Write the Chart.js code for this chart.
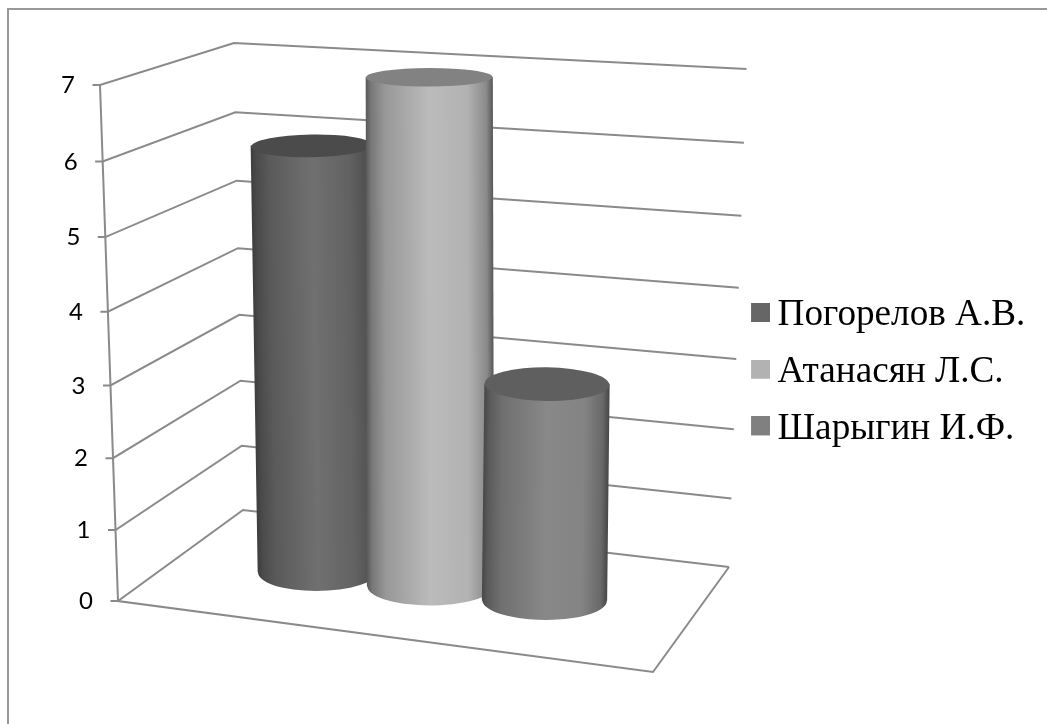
<!DOCTYPE html>
<html>
<head>
<meta charset="utf-8">
<style>
  html, body { margin: 0; padding: 0; background: #fff; overflow: hidden; }
  #wrap { position: relative; width: 1047px; height: 724px; }
  #wrap canvas { position: absolute; left: 0; top: 0; }
  #frame {
    position: absolute; left: 7px; top: 8px; right: 0; bottom: 0;
    border-top: 2px solid #989898; border-left: 2px solid #989898;
  }
</style>
<script src="https://cdn.jsdelivr.net/npm/chart.js@4"></script>
</head>
<body>
<div id="wrap">
  <div id="frame"></div>
  <canvas id="chartCanvas" width="1047" height="724"></canvas>
</div>
<script>
const seriesNames = ['Погорелов А.В.', 'Атанасян Л.С.', 'Шарыгин И.Ф.'];
const seriesValues = [6, 7, 3];
const tickLabels = ['0', '1', '2', '3', '4', '5', '6', '7'];

const legendColors = ['#666666', '#b2b2b2', '#808080'];
const topColors = ['#4b4b4b', '#828282', '#5f5f5f'];
const barWidths = [121, 126.5, 124.6];
const sideStops = [
  ['#3e3e3e', '#4a4a4a', '#5a5a5a', '#707070', '#626262', '#505050', '#3c3c3c'],
  ['#5a5a5a', '#787878', '#989898', '#bbbbbb', '#b2b2b2', '#8a8a8a', '#5a5a5a'],
  ['#484848', '#5a5a5a', '#707070', '#888888', '#848484', '#686868', '#484848']
];
const stopOffsets = [0, 0.04, 0.15, 0.5, 0.8, 0.95, 1];

// box corners, [x at value 0, y at value 0, x at top, y at top]
const frontLeft = [118, 601, 100, 85];
const backLeft = [243, 510, 234, 43];
const backRight = [729, 567, 746.5, 69];
const frontRight = [653, 672];

const lerp = (a, b, t) => a + (b - a) * t;
// slight foreshortening of the value axis
const depthT = t => t / (t + (1 - t) * 1.045);

function edgePoint(edge, t) {
  return [lerp(edge[0], edge[2], t), lerp(edge[1], edge[3], t)];
}

function axisT(scale, value) {
  const t = (scale.bottom - scale.getPixelForValue(value)) / (scale.bottom - scale.top);
  return depthT(t);
}

// floor line, height and lean of a cylinder standing at pixel x
const floorY = x => 571.7 + 0.1222 * (x - 311.5);
const fullHeight = x => 500 + 0.075 * (x - 311.5);
const leanAt = x => 0.0165 - 0.0001195 * (x - 311.5);
const capRadius = y => 9.25 + 0.02465 * (y - 76.7) - 2.44e-5 * (y - 76.7) * (y - 385);

// legend square, placed off the centre of its canvas so it lines up with the text
function makeSwatch(color) {
  const c = document.createElement('canvas');
  c.width = 22;
  c.height = 25;
  const g = c.getContext('2d');
  g.fillStyle = color;
  g.fillRect(3, 0, 19, 19);
  return c;
}
const swatches = legendColors.map(makeSwatch);

const box3d = {
  id: 'box3d',
  afterLayout(chart) {
    const legend = chart.legend;
    legend.left = 739.5;
    legend.right = 1047;
    legend.top = 277.4;
    legend.bottom = 724;
  },
  beforeDatasetsDraw(chart) {
    const ctx = chart.ctx;
    const y = chart.scales.y;
    ctx.save();
    ctx.strokeStyle = '#8a8a8a';
    ctx.lineWidth = 2;
    ctx.lineJoin = 'miter';
    y.ticks.forEach(tick => {
      const t = axisT(y, tick.value);
      const a = edgePoint(frontLeft, t);
      const b = edgePoint(backLeft, t);
      const c = edgePoint(backRight, t);
      ctx.beginPath();
      ctx.moveTo(a[0] - 7.5, a[1]);
      ctx.lineTo(a[0], a[1]);
      ctx.lineTo(b[0], b[1]);
      ctx.lineTo(c[0], c[1]);
      ctx.stroke();

      ctx.fillStyle = '#000';
      ctx.font = '24px Lato, "Open Sans", sans-serif';
      ctx.textAlign = 'right';
      ctx.textBaseline = 'middle';
      ctx.fillText(tick.label, a[0] - 25, a[1] + 0.5);
    });
    // left upright and the floor's front edges
    ctx.beginPath();
    ctx.moveTo(frontLeft[2], frontLeft[3]);
    ctx.lineTo(frontLeft[0], frontLeft[1]);
    ctx.lineTo(frontRight[0], frontRight[1]);
    ctx.lineTo(backRight[0], backRight[1]);
    ctx.stroke();
    ctx.restore();
  },
  // each bar is drawn by the controller inside a shear that stands it on the floor
  beforeDatasetDraw(chart, args) {
    const ctx = chart.ctx;
    const el = args.meta.data[args.index];
    const y = chart.scales.y;
    const value = chart.data.datasets[args.index].data[args.index];
    const base = floorY(el.x);
    const top = base - fullHeight(el.x) * axisT(y, value);
    const k = (base - top) / (el.base - el.y);
    const lean = leanAt(el.x);
    el.$top = top;
    ctx.save();
    ctx.transform(1, 0, lean * k, k, -lean * k * el.y, base - k * el.base);
    ctx.fillStyle = el.options.backgroundColor;
    ctx.beginPath();
    ctx.ellipse(el.x, el.base, el.width / 2, capRadius(base) / k, -lean, -0.15, Math.PI + 0.15);
    ctx.fill();
  },
  afterDatasetDraw(chart, args) {
    const ctx = chart.ctx;
    const el = args.meta.data[args.index];
    ctx.restore();
    ctx.save();
    ctx.fillStyle = topColors[args.index];
    ctx.beginPath();
    ctx.ellipse(el.x, el.$top, el.width / 2, capRadius(el.$top), -leanAt(el.x), 0, Math.PI * 2);
    ctx.fill();
    ctx.restore();
  }
};

function sideGradient(c) {
  const chart = c.chart;
  const i = c.datasetIndex;
  if (!chart.chartArea) return legendColors[i];
  const x = chart.scales.x.getPixelForValue(i);
  const g = chart.ctx.createLinearGradient(x - barWidths[i] / 2, 0, x + barWidths[i] / 2, 0);
  stopOffsets.forEach((o, j) => g.addColorStop(o, sideStops[i][j]));
  return g;
}

new Chart(document.getElementById('chartCanvas').getContext('2d'), {
  type: 'bar',
  data: {
    labels: seriesNames,
    datasets: seriesNames.map((name, i) => ({
      label: name,
      data: seriesNames.map((_, j) => (i === j ? seriesValues[i] : null)),
      backgroundColor: sideGradient,
      borderWidth: 0,
      barThickness: barWidths[i],
      grouped: false,
      clip: false,
      order: seriesNames.length - i
    }))
  },
  options: {
    responsive: false,
    animation: false,
    layout: { padding: { left: 252.6, right: 441.1, top: 85, bottom: 123 } },
    scales: {
      x: { display: false },
      y: {
        display: false,
        min: 0,
        max: 7,
        ticks: { stepSize: 1, callback: value => tickLabels[value] }
      }
    },
    plugins: {
      tooltip: { enabled: false },
      legend: {
        position: 'chartArea',
        align: 'start',
        labels: {
          usePointStyle: true,
          boxWidth: 0.01,
          boxHeight: 19,
          padding: 19.5,
          color: '#000',
          font: { family: '"Liberation Serif", serif', size: 37.2 },
          generateLabels: () => seriesNames.map((text, i) => ({
            text,
            fillStyle: legendColors[i],
            strokeStyle: legendColors[i],
            lineWidth: 0,
            pointStyle: swatches[i],
            datasetIndex: i,
            hidden: false
          }))
        }
      }
    }
  },
  plugins: [box3d]
});
</script>
</body>
</html>
